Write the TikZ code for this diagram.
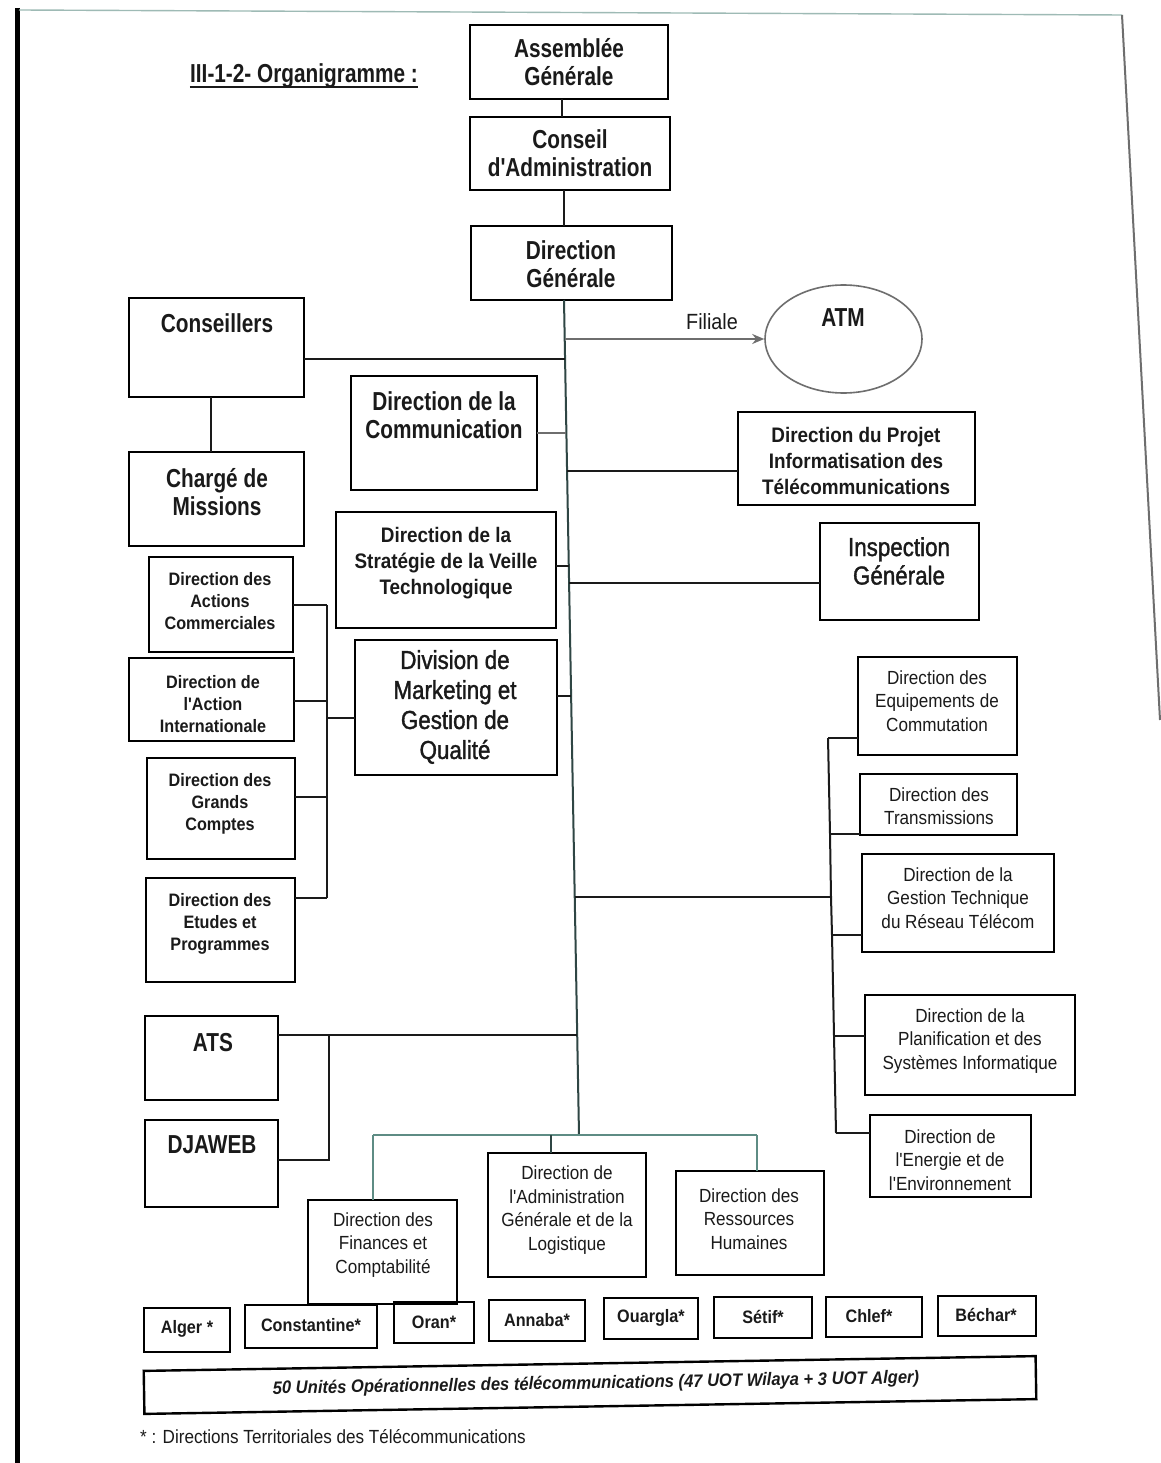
\documentclass[tikz,border=0pt]{standalone}
\usepackage{fontspec}
\setmainfont{Liberation Sans}
\newfontfamily\bigf{Liberation Sans Bold}[FakeStretch=0.80]
\newfontfamily\bigrf{Liberation Sans}[FakeStretch=0.86, FakeBold=1.3]
\newfontfamily\midf{Liberation Sans Bold}[FakeStretch=0.90]
\newfontfamily\regf{Liberation Sans}[FakeStretch=0.90]
\newfontfamily\uotf{Liberation Sans Bold Italic}[FakeStretch=0.92]
\usetikzlibrary{arrows.meta,shapes.geometric}

\definecolor{inkc}{HTML}{1A1A1A}
\definecolor{trunkc}{HTML}{2F4644}
\definecolor{tealc}{HTML}{5E8C84}
\definecolor{greyc}{HTML}{6E6E6E}

\newcommand\bigtxt{\bigf\fontsize{26}{28.5}\selectfont}
\newcommand\bigrtxt{\bigrf\fontsize{26}{28.5}\selectfont}
\newcommand\midtxt{\midf\fontsize{21}{26}\selectfont}
\newcommand\smbtxt{\midf\fontsize{18}{22}\selectfont}
\newcommand\smrtxt{\regf\fontsize{19}{23.5}\selectfont}

% box with corners (x1,y1) and (x2,y2), y counted downwards
\newcommand\orgbox[5]{\node[box, minimum width={(#4-#2)*1pt}, minimum height={(#5-#3)*1pt}] (#1) at ({(#2+#4)/2},{(#3+#5)/2}) {};}
% point on the main trunk at height #2
\newcommand\trunkpt[2]{\coordinate (#1) at ({564+15*(#2-300)/835},#2);}

\tikzset{
  box/.style={draw=black, line width=2.4pt, inner sep=0pt, outer sep=0pt},
  lbl/.style={align=center, inner sep=0pt, text=inkc},
  con/.style={line width=2pt, draw=inkc},
  trunkline/.style={line width=2pt, draw=trunkc},
}

\begin{document}
\begin{tikzpicture}[x=1pt, y=-1pt]
\useasboundingbox (0,0) rectangle (1160,1463);
\fill[white] (0,0) rectangle (1160,1463);

% page edges
\draw[line width=5pt, black] (17,8) -- (17,1463);
\draw[line width=1.4pt, tealc!60] (19,10) -- (1122,15);
\draw[line width=2pt, greyc] (1122,15) -- (1160,720);

% heading
\node[lbl, font=\bigtxt] (title) at (304,76) {III-1-2- Organigramme :};
\draw[line width=2pt, inkc] ([yshift=1pt]title.south west) -- ([yshift=1pt]title.south east);

% top of the hierarchy
\orgbox{ag}{470}{25}{668}{99}
\node[lbl, font=\bigtxt] (agt) at (569,62) {Assemblée\\Générale};
\orgbox{ca}{470}{117}{670}{190}
\node[lbl, font=\bigtxt] (cat) at (570,153) {Conseil\\d'Administration};
\orgbox{dg}{471}{226}{672}{300}
\node[lbl, font=\bigtxt] (dgt0) at (571,264) {Direction\\Générale};

\coordinate (c1) at (562,0);
\coordinate (c2) at (564,0);
\draw[con] (ag.south -| c1) -- (ca.north -| c1);
\draw[con] (ca.south -| c2) -- (dg.north -| c2);

% trunk and its junctions
\coordinate (tTop) at (564,0);
\trunkpt{tBot}{1135}
\trunkpt{jFil}{339}
\trunkpt{jCons}{359}
\trunkpt{jCom}{433}
\trunkpt{jProj}{471}
\trunkpt{jStr}{566}
\trunkpt{jInsp}{583}
\trunkpt{jDiv}{696}
\trunkpt{jRight}{897}
\trunkpt{jAts}{1035}
\draw[trunkline] (dg.south -| tTop) -- (tBot);

% subsidiary
\node[ellipse, draw=greyc, line width=1.6pt, minimum width=157pt, minimum height=108pt, inner sep=0pt] (atm) at (843.5,339) {};
\node[lbl, font=\bigtxt] (atmt) at (843,318) {ATM};
\draw[line width=1.8pt, draw=greyc, -{Stealth[length=12pt,width=10pt]}] (jFil) -- (atm.west);
\node[lbl, font=\regf\fontsize{22}{24}\selectfont] (fil) at (712,322) {Filiale};

% advisers
\orgbox{cons}{129}{298}{304}{397}
\node[lbl, font=\bigtxt] (const) at (217,323) {Conseillers};
\draw[con] (cons.east |- jCons) -- (jCons);
\orgbox{ch}{129}{452}{304}{546}
\node[lbl, font=\bigtxt] (cht) at (217,492) {Chargé de\\Missions};
\coordinate (c3) at (211,0);
\draw[con] (cons.south -| c3) -- (ch.north -| c3);

% staff directions
\orgbox{com}{351}{376}{537}{490}
\node[lbl, font=\bigtxt] (comt) at (444,415) {Direction de la\\Communication};
\draw[line width=2pt, greyc] (com.east |- jCom) -- (jCom);

\orgbox{proj}{738}{412}{975}{505}
\node[lbl, font=\midtxt] (projt) at (856,461) {Direction du Projet\\Informatisation des\\Télécommunications};
\draw[con] (jProj) -- (proj.west |- jProj);

\orgbox{strat}{336}{512}{556}{628}
\node[lbl, font=\midtxt] (stratt) at (446,563) {Direction de la\\Stratégie de la Veille\\Technologique};
\draw[con] (strat.east |- jStr) -- (jStr);

\orgbox{insp}{820}{523}{979}{620}
\node[lbl, font=\bigrtxt] (inspt) at (899,561) {Inspection\\Générale};
\draw[con] (jInsp) -- (insp.west |- jInsp);

\orgbox{div}{355}{640}{557}{775}
\node[lbl, font=\bigrf\fontsize{26}{30}\selectfont] (divt) at (455,707) {Division de\\Marketing et\\Gestion de\\Qualité};
\draw[con] (div.east |- jDiv) -- (jDiv);

% commercial directions
\orgbox{dac}{149}{557}{293}{652}
\node[lbl, font=\smbtxt] (dact) at (220,601) {Direction des\\Actions\\Commerciales};
\orgbox{dai}{129}{658}{294}{741}
\node[lbl, font=\smbtxt] (dait) at (213,704) {Direction de\\l'Action\\Internationale};
\orgbox{dgc}{147}{758}{295}{859}
\node[lbl, font=\smbtxt] (dgct) at (220,804) {Direction des\\Grands\\Comptes};
\orgbox{dep}{146}{878}{295}{982}
\node[lbl, font=\smbtxt] (dept) at (220,924) {Direction des\\Etudes et\\Programmes};

\coordinate (lb1) at (327,605);
\coordinate (lb2) at (327,701);
\coordinate (lb3) at (327,797);
\coordinate (lb4) at (327,898);
\coordinate (lbm) at (327,718);
\draw[con] (lb1) -- (lb4);
\draw[con] (dac.east |- lb1) -- (lb1);
\draw[con] (dai.east |- lb2) -- (lb2);
\draw[con] (dgc.east |- lb3) -- (lb3);
\draw[con] (dep.east |- lb4) -- (lb4);
\draw[con] (lbm) -- (div.west |- lbm);

% technical directions
\orgbox{deq}{858}{657}{1017}{755}
\node[lbl, font=\smrtxt] (deqt) at (937,701) {Direction des\\Equipements de\\Commutation};
\orgbox{dtr}{860}{774}{1017}{835}
\node[lbl, font=\smrtxt] (dtrt) at (939,806) {Direction des\\Transmissions};
\orgbox{dgtr}{862}{854}{1054}{952}
\node[lbl, font=\smrtxt] (dgtrt) at (958,898) {Direction de la\\Gestion Technique\\du Réseau Télécom};
\orgbox{dpl}{865}{995}{1075}{1095}
\node[lbl, font=\smrtxt] (dplt) at (970,1041) {Direction de la\\Planification et des\\Systèmes Informatique};
\orgbox{den}{870}{1115}{1031}{1197}
\node[lbl, font=\smrtxt] (dent) at (950,1160) {Direction de\\l'Energie et de\\l'Environnement};

\coordinate (rb1) at (828,738);
\coordinate (rb2) at (830,834);
\coordinate (rbm) at (831,897);
\coordinate (rb3) at (832,935);
\coordinate (rb4) at (834,1036);
\coordinate (rb5) at (836,1133);
\draw[con] (rb1) -- (rb2) -- (rbm) -- (rb3) -- (rb4) -- (rb5);
\draw[con] (jRight) -- (rbm);
\draw[con] (rb1) -- (deq.west |- rb1);
\draw[con] (rb2) -- (dtr.west |- rb2);
\draw[con] (rb3) -- (dgtr.west |- rb3);
\draw[con] (rb4) -- (dpl.west |- rb4);
\draw[con] (rb5) -- (den.west |- rb5);

% subsidiaries ATS and DJAWEB
\orgbox{ats}{145}{1016}{278}{1100}
\node[lbl, font=\bigtxt] (atst) at (213,1043) {ATS};
\orgbox{dj}{145}{1120}{278}{1207}
\node[lbl, font=\bigtxt] (djt) at (212,1145) {DJAWEB};
\coordinate (ab1) at (329,1035);
\coordinate (ab2) at (329,1160);
\draw[con] (ats.east |- jAts) -- (jAts);
\draw[con] (ab1) -- (ab2) -- (dj.east |- ab2);

% support directions
\orgbox{fin}{308}{1200}{457}{1304}
\node[lbl, font=\smrtxt] (fint) at (383,1245) {Direction des\\Finances et\\Comptabilité};
\orgbox{adm}{488}{1153}{646}{1277}
\node[lbl, font=\smrtxt] (admt) at (567,1210) {Direction de\\l'Administration\\Générale et de la\\Logistique};
\orgbox{rh}{676}{1171}{824}{1275}
\node[lbl, font=\smrtxt] (rht) at (749,1219) {Direction des\\Ressources\\Humaines};

\coordinate (bh1) at (373,1135);
\coordinate (bh2) at (551,1135);
\coordinate (bh3) at (757,1135);
\draw[line width=2.4pt, tealc] (bh1) -- (bh3);
\draw[line width=2pt, tealc] (bh1) -- (fin.north -| bh1);
\draw[line width=2pt, trunkc] (bh2) -- (adm.north -| bh2);
\draw[line width=2pt, tealc] (bh3) -- (rh.north -| bh3);

% territorial directions
\orgbox{alg}{144}{1308}{230}{1352}
\node[lbl, font=\smbtxt] (algt) at (187,1329) {Alger *};
\orgbox{cst}{245}{1305}{377}{1348}
\node[lbl, font=\smbtxt] (cstt) at (311,1325) {Constantine*};
\orgbox{orn}{394}{1302}{474}{1343}
\node[lbl, font=\smbtxt] (ornt) at (434,1322) {Oran*};
\orgbox{ann}{489}{1300}{585}{1341}
\node[lbl, font=\smbtxt] (annt) at (537,1320) {Annaba*};
\orgbox{oua}{604}{1298}{698}{1339}
\node[lbl, font=\smbtxt] (ouat) at (651,1318) {Ouargla*};
\orgbox{set}{714}{1297}{812}{1338}
\node[lbl, font=\smbtxt] (sett) at (763,1317) {Sétif*};
\orgbox{chl}{826}{1297}{922}{1337}
\node[lbl, font=\smbtxt] (chlt) at (869,1316) {Chlef*};
\orgbox{bec}{938}{1296}{1036}{1336}
\node[lbl, font=\smbtxt] (bect) at (986,1315) {Béchar*};

% operational units
\node[box, rotate=0.95, minimum width=892pt, minimum height=43pt] (uot) at (590,1385) {};
\node[lbl, rotate=0.95, font=\uotf\fontsize{18}{20}\selectfont] (uott) at (596,1384) {50 Unités Opérationnelles des télécommunications (47 UOT Wilaya + 3 UOT Alger)};

% footnote
\node[lbl, anchor=west, font=\regf\fontsize{19}{21}\selectfont] (foot) at (140,1437) {* : Directions Territoriales des Télécommunications};
\end{tikzpicture}
\end{document}
